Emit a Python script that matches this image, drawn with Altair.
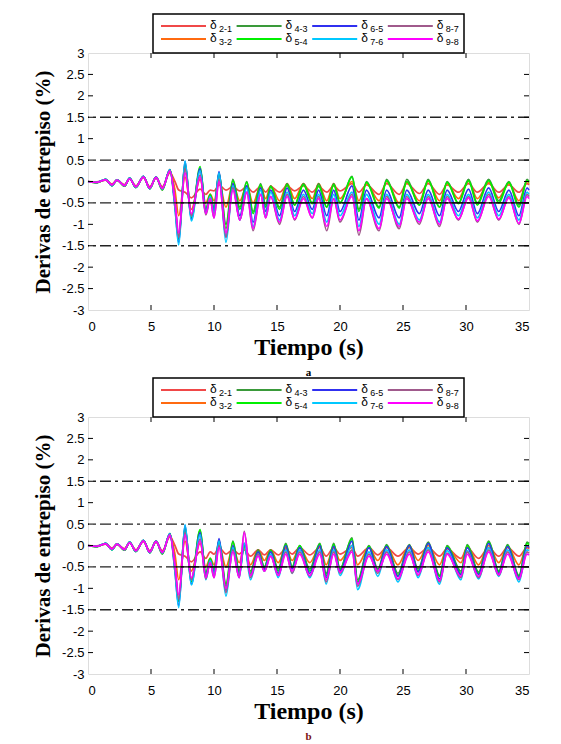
import altair as alt
import pandas as pd

# ---- data ----
SUBS = ["2-1", "3-2", "4-3", "5-4", "6-5", "7-6", "8-7", "9-8"]
COLORS = ["#f04848", "#ff6a10", "#3a9a3a", "#00f000", "#3030f0", "#00c8ff", "#a05a8c", "#ff00ff"]

# time keypoints, panel a
T_A = [0.0, 0.7, 1.4, 1.9, 2.3, 2.9, 3.3, 3.8, 4.4, 4.9, 5.4, 5.9, 6.5, 6.9, 7.2, 7.7, 8.2, 8.9,
       9.35, 9.7, 10.0, 10.4, 10.95, 11.5, 12.05, 12.6, 13.1, 13.7, 14.1, 14.5, 15.2, 15.8, 16.4,
       17.1, 17.8, 18.3, 18.95, 19.5, 20.0, 20.95, 21.5, 22.1, 23.1, 23.7, 24.7, 25.3, 26.3, 27.0,
       27.9, 28.5, 29.4, 30.2, 30.9, 31.8, 32.6, 33.4, 34.2, 34.85, 35.0]

# time keypoints, panel b
T_B = [0.0, 0.7, 1.4, 1.9, 2.3, 2.9, 3.3, 3.8, 4.4, 4.9, 5.4, 5.9, 6.5, 6.9, 7.2, 7.7, 8.2, 8.9,
       9.35, 9.7, 10.0, 10.4, 10.95, 11.5, 12.0, 12.4, 12.9, 13.5, 14.0, 14.5, 15.1, 15.7, 16.2,
       16.8, 17.6, 18.4, 18.9, 19.5, 20.0, 20.95, 21.4, 22.3, 23.0, 23.7, 24.6, 25.5, 26.2, 27.0,
       27.9, 28.5, 29.6, 30.1, 31.0, 31.8, 32.6, 33.3, 34.2, 34.85, 35.0]

# early part (0 - 6.5 s), per series
E_R = [0.0, -0.01, 0.03, -0.06, 0.03, -0.07, 0.06, -0.10, 0.09, -0.12, 0.08, -0.12, 0.20]
E_O = [0.0, -0.02, 0.04, -0.08, 0.03, -0.09, 0.07, -0.12, 0.11, -0.15, 0.10, -0.16, 0.25]
E_G = [0.0, -0.03, 0.05, -0.10, 0.03, -0.11, 0.08, -0.14, 0.12, -0.17, 0.10, -0.20, 0.28]
E_L = [0.0, -0.03, 0.05, -0.10, 0.04, -0.11, 0.08, -0.14, 0.12, -0.17, 0.11, -0.19, 0.28]
E_B = [0.0, -0.02, 0.05, -0.09, 0.04, -0.10, 0.08, -0.13, 0.12, -0.16, 0.11, -0.17, 0.28]
E_C = [0.0, -0.02, 0.05, -0.10, 0.04, -0.10, 0.08, -0.14, 0.12, -0.17, 0.11, -0.18, 0.27]
E_P = [0.0, -0.02, 0.04, -0.09, 0.03, -0.10, 0.07, -0.13, 0.11, -0.16, 0.10, -0.17, 0.25]
E_M = [0.0, -0.02, 0.04, -0.08, 0.03, -0.09, 0.06, -0.12, 0.10, -0.15, 0.09, -0.16, 0.24]

# panel a, from 6.9 s on
A_R = [0.0, -0.20, -0.25, -0.38, -0.18, -0.30, -0.20, -0.22, -0.08, -0.20, -0.12, -0.22, -0.12, -0.25,
       -0.12, -0.25, -0.12, -0.25, -0.10, -0.22, -0.10, -0.25, -0.12, -0.25, -0.10, -0.22, -0.05, -0.25,
       -0.08, -0.30, -0.05, -0.30, -0.05, -0.28, -0.05, -0.30, -0.08, -0.25, -0.05, -0.25, -0.05, -0.25,
       -0.08, -0.25, -0.05, -0.08]
A_O = [-0.20, -0.80, 0.10, -0.65, 0.05, -0.50, -0.30, -0.45, 0.0, -0.60, -0.05, -0.45, -0.10, -0.50,
       -0.10, -0.40, -0.10, -0.45, -0.05, -0.40, -0.05, -0.40, -0.05, -0.45, -0.05, -0.40, 0.0, -0.45,
       -0.05, -0.45, 0.0, -0.50, -0.02, -0.45, 0.0, -0.45, -0.05, -0.40, 0.0, -0.40, -0.02, -0.38,
       -0.05, -0.45, 0.0, -0.05]
A_G = [-0.50, -1.30, 0.40, -0.80, 0.30, -0.65, -0.30, -0.65, 0.18, -1.00, 0.05, -0.60, 0.0, -0.70,
       -0.05, -0.55, -0.10, -0.60, -0.05, -0.55, -0.05, -0.50, -0.05, -0.60, -0.05, -0.50, 0.12, -0.65,
       0.0, -0.60, 0.05, -0.60, 0.05, -0.55, 0.05, -0.60, 0.0, -0.50, 0.05, -0.50, 0.05, -0.45,
       0.0, -0.55, 0.05, 0.0]
A_L = [-0.50, -1.35, 0.42, -0.85, 0.35, -0.70, -0.30, -0.65, 0.20, -1.10, 0.02, -0.65, -0.02, -0.75,
       -0.08, -0.60, -0.12, -0.65, -0.08, -0.55, -0.08, -0.52, -0.10, -0.60, -0.08, -0.50, 0.10, -0.70,
       -0.02, -0.62, 0.02, -0.62, 0.0, -0.55, 0.02, -0.60, -0.02, -0.52, 0.02, -0.55, 0.02, -0.50,
       -0.02, -0.60, 0.02, -0.02]
A_B = [-0.60, -1.42, 0.47, -0.88, 0.30, -0.72, -0.35, -0.70, 0.23, -1.30, -0.05, -0.80, -0.10, -0.95,
       -0.15, -0.70, -0.20, -0.80, -0.15, -0.70, -0.20, -0.65, -0.20, -0.80, -0.20, -0.70, -0.10, -0.90,
       -0.20, -0.85, -0.20, -0.85, -0.20, -0.75, -0.20, -0.80, -0.20, -0.70, -0.18, -0.75, -0.15, -0.70,
       -0.20, -0.80, -0.15, -0.20]
A_C = [-0.60, -1.48, 0.48, -0.92, 0.25, -0.75, -0.35, -0.75, 0.20, -1.42, -0.10, -0.90, -0.15, -1.05,
       -0.20, -0.80, -0.25, -0.90, -0.25, -0.80, -0.30, -0.75, -0.30, -0.95, -0.30, -0.80, -0.25, -1.05,
       -0.30, -1.00, -0.30, -1.00, -0.30, -0.90, -0.30, -0.95, -0.30, -0.80, -0.30, -0.85, -0.25, -0.80,
       -0.30, -0.90, -0.25, -0.30]
A_P = [-0.50, -1.30, 0.30, -0.80, 0.15, -0.78, -0.40, -0.85, 0.05, -1.30, -0.15, -0.90, -0.25, -1.15,
       -0.30, -0.85, -0.35, -1.00, -0.30, -0.90, -0.35, -0.85, -0.35, -1.15, -0.40, -0.95, -0.30, -1.25,
       -0.40, -1.15, -0.35, -1.10, -0.35, -1.00, -0.35, -1.05, -0.35, -0.90, -0.35, -0.95, -0.30, -0.90,
       -0.35, -1.00, -0.30, -0.35]
A_M = [-0.45, -1.20, 0.20, -0.75, 0.10, -0.75, -0.40, -0.85, 0.0, -1.20, -0.20, -0.90, -0.25, -1.10,
       -0.30, -0.85, -0.35, -0.95, -0.35, -0.88, -0.40, -0.85, -0.40, -1.05, -0.40, -0.90, -0.35, -1.15,
       -0.40, -1.10, -0.40, -1.05, -0.40, -0.95, -0.40, -1.00, -0.40, -0.88, -0.38, -0.92, -0.35, -0.88,
       -0.38, -0.98, -0.35, -0.40]

# panel b, from 6.9 s on
B_R = [0.0, -0.20, -0.25, -0.38, -0.15, -0.30, -0.15, -0.20, -0.05, -0.20, -0.10, -0.20, -0.10, -0.25,
       -0.10, -0.22, -0.10, -0.22, -0.08, -0.20, -0.05, -0.22, -0.05, -0.25, -0.05, -0.20, -0.05, -0.25,
       -0.05, -0.22, -0.05, -0.25, -0.05, -0.20, -0.05, -0.25, -0.08, -0.30, -0.05, -0.30, -0.05, -0.25,
       -0.05, -0.25, -0.05, -0.08]
B_O = [-0.20, -0.80, 0.10, -0.60, 0.05, -0.50, -0.30, -0.45, 0.0, -0.50, -0.05, -0.40, -0.05, -0.45,
       -0.10, -0.35, -0.10, -0.40, -0.05, -0.35, -0.05, -0.40, -0.02, -0.45, -0.05, -0.35, 0.0, -0.45,
       -0.05, -0.35, -0.02, -0.45, 0.0, -0.35, 0.0, -0.45, -0.05, -0.40, -0.02, -0.45, 0.0, -0.40,
       -0.02, -0.45, 0.0, -0.05]
B_G = [-0.50, -1.30, 0.40, -0.80, 0.35, -0.65, -0.30, -0.60, 0.10, -0.90, 0.10, -0.60, 0.0, -0.60,
       -0.10, -0.50, -0.10, -0.55, 0.05, -0.50, 0.0, -0.55, 0.05, -0.65, 0.05, -0.55, 0.18, -0.80,
       0.0, -0.55, 0.02, -0.65, 0.02, -0.55, 0.08, -0.70, 0.0, -0.60, 0.02, -0.62, 0.10, -0.60,
       0.02, -0.70, 0.08, 0.05]
B_L = [-0.50, -1.30, 0.42, -0.85, 0.37, -0.70, -0.30, -0.60, 0.12, -0.95, 0.08, -0.65, 0.0, -0.65,
       -0.15, -0.50, -0.12, -0.60, 0.02, -0.50, 0.0, -0.60, 0.03, -0.70, 0.02, -0.55, 0.15, -0.85,
       -0.02, -0.60, 0.0, -0.70, 0.0, -0.60, 0.05, -0.72, -0.02, -0.65, 0.0, -0.65, 0.08, -0.62,
       0.0, -0.72, 0.05, 0.02]
B_B = [-0.60, -1.40, 0.47, -0.90, 0.30, -0.72, -0.35, -0.65, 0.16, -1.05, 0.0, -0.70, 0.05, -0.70,
       -0.15, -0.55, -0.15, -0.65, 0.0, -0.55, -0.05, -0.65, 0.0, -0.75, -0.02, -0.60, 0.10, -0.90,
       -0.05, -0.60, -0.02, -0.72, 0.0, -0.62, 0.05, -0.78, -0.05, -0.68, -0.05, -0.68, 0.05, -0.65,
       -0.02, -0.75, 0.0, -0.05]
B_C = [-0.60, -1.45, 0.49, -0.92, 0.25, -0.80, -0.35, -0.70, 0.10, -1.18, -0.05, -0.75, 0.05, -0.80,
       -0.20, -0.60, -0.20, -0.75, -0.10, -0.65, -0.10, -0.75, -0.10, -0.90, -0.10, -0.70, 0.0, -1.03,
       -0.15, -0.72, -0.10, -0.85, -0.10, -0.75, -0.05, -0.90, -0.12, -0.80, -0.12, -0.78, -0.05, -0.72,
       -0.10, -0.85, -0.10, -0.12]
B_P = [-0.50, -1.25, 0.30, -0.80, 0.15, -0.78, -0.40, -0.75, 0.0, -1.10, -0.10, -0.75, 0.33, -0.75,
       -0.20, -0.60, -0.25, -0.70, -0.15, -0.65, -0.15, -0.72, -0.15, -0.85, -0.15, -0.65, -0.10, -0.95,
       -0.20, -0.65, -0.15, -0.80, -0.15, -0.70, -0.10, -0.85, -0.18, -0.75, -0.15, -0.75, -0.10, -0.70,
       -0.15, -0.80, -0.15, -0.18]
B_M = [-0.45, -1.15, 0.25, -0.75, 0.10, -0.75, -0.40, -0.75, -0.05, -1.00, -0.15, -0.75, 0.30, -0.70,
       -0.25, -0.60, -0.25, -0.70, -0.20, -0.60, -0.20, -0.70, -0.20, -0.80, -0.20, -0.62, -0.15, -0.90,
       -0.25, -0.60, -0.20, -0.78, -0.20, -0.68, -0.15, -0.82, -0.20, -0.72, -0.20, -0.72, -0.15, -0.68,
       -0.20, -0.78, -0.20, -0.22]

EARLY = [E_R, E_O, E_G, E_L, E_B, E_C, E_P, E_M]
LATE_A = [A_R, A_O, A_G, A_L, A_B, A_C, A_P, A_M]
LATE_B = [B_R, B_O, B_G, B_L, B_B, B_C, B_P, B_M]

REF_LEVELS = [1.5, 0.5, -0.5, -1.5]
SOLID_START, SOLID_END, SOLID_LEVEL = 7.0, 35.0, -0.5
Y_TICKS = [-3, -2.5, -2, -1.5, -1, -0.5, 0, 0.5, 1, 1.5, 2, 2.5, 3]
Y_MINOR = [-2.5, -2, -1.5, -1, -0.5, 0, 0.5, 1, 1.5, 2, 2.5]
X_TICKS = [0, 5, 10, 15, 20, 25, 30, 35]
X_MINOR = [5, 10, 15, 20, 25, 30]

W, H = 441, 257
SERIF = "Liberation Serif"
SANS = "Liberation Sans"

# legend layout (pixels relative to the plot's top-left corner)
LEG_BOX = (65, -39, 376, 0)
LEG_X0, LEG_DX, LEG_LINE = 73, 75.6, 45
LEG_ROWS = [-27, -14]


def panel(T, late, tag, tag_color):
    rows = []
    for i, (e, l) in enumerate(zip(EARLY, late)):
        vals = e + l
        assert len(vals) == len(T), (tag, i, len(vals), len(T))
        for t, v in zip(T, vals):
            rows.append({"t": t, "v": v, "s": SUBS[i], "k": i})
    df = pd.DataFrame(rows)

    xs = alt.Scale(domain=[0, 35], nice=False, zero=False)
    ys = alt.Scale(domain=[-3, 3], nice=False, zero=False)
    xaxis = alt.Axis(
        values=X_TICKS, title="Tiempo (s)", ticks=False, domain=False,
        labelFont=SANS, labelFontSize=13, labelColor="black", labelPadding=10,
        titleFont=SERIF, titleFontSize=24, titleFontWeight="bold", titleColor="black",
        titlePadding=2, grid=False)
    yaxis = alt.Axis(
        values=Y_TICKS, title="Derivas de entrepiso (%)", ticks=False, domain=False,
        labelExpr="'' + datum.value",
        labelFont=SANS, labelFontSize=13, labelColor="black", labelPadding=4,
        titleFont=SERIF, titleFontSize=21, titleFontWeight="bold", titleColor="black",
        titlePadding=8, grid=False)

    def X(field="t"):
        return alt.X(f"{field}:Q", scale=xs, axis=xaxis)

    def Y():
        return alt.Y("v:Q", scale=ys, axis=yaxis)

    lines = alt.Chart(df).mark_line(strokeWidth=1.7, interpolate="monotone").encode(
        x=X(), y=Y(),
        color=alt.Color("s:N", scale=alt.Scale(domain=SUBS, range=COLORS), legend=None),
        order=alt.Order("k:Q"),
        detail="k:N",
    )

    ref = alt.Chart(pd.DataFrame({"v": REF_LEVELS})).mark_rule(
        color="#222222", strokeWidth=1.3, strokeDash=[11, 4, 3, 4]
    ).encode(y=Y())

    solid = alt.Chart(pd.DataFrame({"t": [SOLID_START], "t1": [SOLID_END], "v": [SOLID_LEVEL]})).mark_rule(
        color="black", strokeWidth=1.4
    ).encode(x=X(), x2="t1:Q", y=Y())

    ydf = pd.DataFrame({"v": Y_MINOR})
    xdf = pd.DataFrame({"t": X_MINOR})
    tick_l = alt.Chart(ydf).mark_rule(color="black", strokeWidth=1).encode(
        y=Y(), x=alt.value(0), x2=alt.value(5))
    tick_r = alt.Chart(ydf).mark_rule(color="black", strokeWidth=1).encode(
        y=Y(), x=alt.value(W), x2=alt.value(W - 5))
    tick_b = alt.Chart(xdf).mark_rule(color="black", strokeWidth=1).encode(
        x=X(), y=alt.value(H), y2=alt.value(H - 5))
    tick_t = alt.Chart(xdf).mark_rule(color="black", strokeWidth=1).encode(
        x=X(), y=alt.value(0), y2=alt.value(5))

    layers = [lines, ref, solid, tick_l, tick_r, tick_b, tick_t]

    # hand-built legend box (4 columns x 2 rows)
    x0, y0, x1, y1 = LEG_BOX
    layers.append(alt.Chart(pd.DataFrame({"d": [0]})).mark_rect(
        fill="white", stroke="black", strokeWidth=1.5
    ).encode(x=alt.value(x0), x2=alt.value(x1), y=alt.value(y0), y2=alt.value(y1)))
    for i, sub in enumerate(SUBS):
        col, row = i // 2, i % 2
        lx = LEG_X0 + col * LEG_DX
        ly = LEG_ROWS[row]
        layers.append(alt.Chart(pd.DataFrame({"d": [0]})).mark_rule(
            color=COLORS[i], strokeWidth=1.8
        ).encode(x=alt.value(lx), x2=alt.value(lx + LEG_LINE), y=alt.value(ly)))
        layers.append(alt.Chart(pd.DataFrame({"d": [0]})).mark_text(
            text="δ", font=SANS, fontSize=12, align="left", baseline="middle", color="black"
        ).encode(x=alt.value(lx + LEG_LINE + 4), y=alt.value(ly - 1)))
        layers.append(alt.Chart(pd.DataFrame({"d": [0]})).mark_text(
            text=sub, font=SANS, fontSize=9, align="left", baseline="middle", color="black"
        ).encode(x=alt.value(lx + LEG_LINE + 13), y=alt.value(ly + 3)))

    return alt.layer(*layers).properties(
        width=W, height=H,
        title=alt.TitleParams(tag, orient="bottom", font=SERIF, fontWeight="bold",
                              fontSize=11, color=tag_color, offset=8, anchor="middle"),
    )


pa = panel(T_A, LATE_A, "a", "black")
pb = panel(T_B, LATE_B, "b", "#7a1010")

chart = alt.vconcat(pa, pb, spacing=-3).resolve_scale(color="independent").configure_view(
    stroke="black", strokeWidth=1.5
).properties(
    padding={"left": 24, "top": 4, "right": 5, "bottom": 5}
).configure(background="white")

chart.save("out.html", embed_options={"renderer": "svg", "actions": False})
